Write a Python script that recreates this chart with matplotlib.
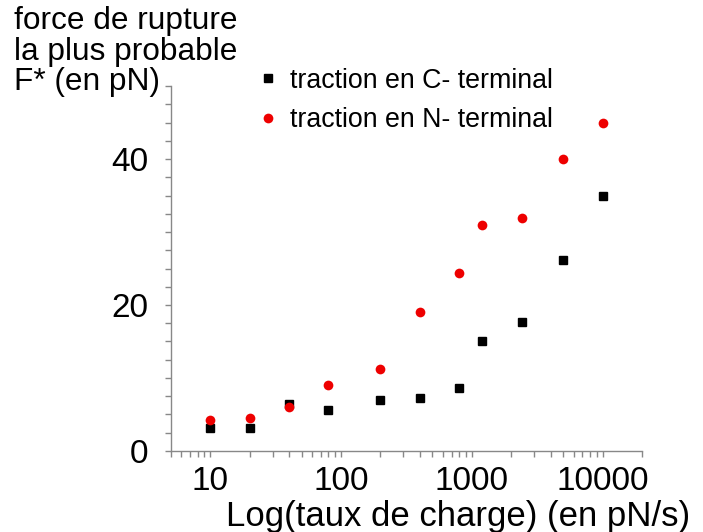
import numpy as np
import matplotlib
matplotlib.use('Agg')
import matplotlib.pyplot as plt
from matplotlib.ticker import MultipleLocator

plt.rcParams['font.family'] = ['Liberation Sans', 'DejaVu Sans']

# taux de charge (pN/s) et force de rupture (pN)
taux_c = [10, 20, 40, 80, 200, 400, 800, 1200, 2400, 5000, 10000]
force_c = [3.1, 3.1, 6.4, 5.6, 7.0, 7.2, 8.6, 15.0, 17.7, 26.2, 34.9]

taux_n = [10, 20, 40, 80, 200, 400, 800, 1200, 2400, 5000, 10000]
force_n = [4.2, 4.5, 6.0, 9.0, 11.2, 19.0, 24.4, 31.0, 31.9, 40.0, 45.0]

xticks = [10, 100, 1000, 10000]
xtick_labels = ['10', '100', '1000', '10000']
yticks = [0, 20, 40]

fig = plt.figure(figsize=(7.03, 5.32), dpi=100)
ax = fig.add_axes([0.2432, 0.1523, 0.6700, 0.6860])

ax.plot(taux_c, force_c, 's', color='black', markersize=5.5, label='traction en C- terminal')
ax.plot(taux_n, force_n, 'o', color='#ee0000', markersize=7, markeredgewidth=0,
        label='traction en N- terminal')

ax.set_xscale('log')
ax.set_xlim(5, 20000)
ax.set_ylim(0, 50)
ax.set_xticks(xticks, xtick_labels)
ax.set_yticks(yticks)
ax.yaxis.set_minor_locator(MultipleLocator(2.5))

for side in ['top', 'right']:
    ax.spines[side].set_visible(False)
for side in ['left', 'bottom']:
    ax.spines[side].set_color('#888888')
    ax.spines[side].set_linewidth(1)

ax.tick_params(which='both', direction='out', color='#888888', length=4, width=1)
ax.tick_params(axis='x', labelsize=24, pad=6.5)
ax.tick_params(axis='y', labelsize=24, pad=12)

ax.set_xlabel('Log(taux de charge) (en pN/s)', fontsize=25)
ax.xaxis.set_label_coords(0.609, -0.133)

fig.text(0.02, 0.989, 'force de rupture\nla plus probable\nF* (en pN)',
         ha='left', va='top', fontsize=22.8, linespacing=1.03)

ax.legend(loc='upper left', bbox_to_anchor=(0.351, 0.893), bbox_transform=fig.transFigure,
          frameon=False, fontsize=19.3, handlelength=0.8, handletextpad=0.42,
          labelspacing=0.5, borderaxespad=0)

fig.savefig('out.png', dpi=100)
